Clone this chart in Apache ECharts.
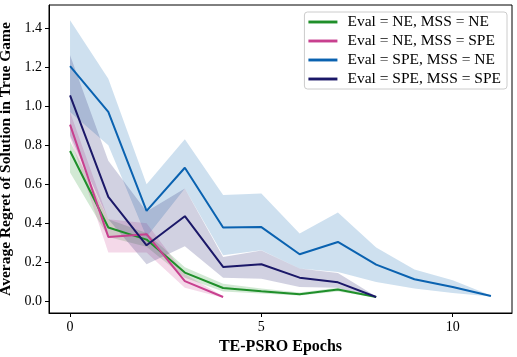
<!DOCTYPE html>
<html>
<head>
<meta charset="utf-8">
<script src="https://cdn.jsdelivr.net/npm/echarts@6/dist/echarts.min.js"></script>
<style>
  html, body { margin: 0; padding: 0; background: #fff; }
  #chart { width: 517px; height: 357px; }
</style>
</head>
<body>
<div id="chart"></div>
<script>
// epochs per run
const epochsNE_NE = [0, 1, 2, 3, 4, 5, 6, 7, 8]
const epochsNE_SPE = [0, 1, 2, 3, 4]
const epochsSPE_NE = [0, 1, 2, 3, 4, 5, 6, 7, 8, 9, 10, 11]
const epochsSPE_SPE = [0, 1, 2, 3, 4, 5, 6, 7, 8]

// mean regret and band edges
const neNeMean = [0.77, 0.378, 0.316, 0.147, 0.068, 0.051, 0.036, 0.06, 0.022]
const neNeUpper = [0.82, 0.42, 0.35, 0.175, 0.09, 0.065, 0.045, 0.07, 0.025]
const neNeLower = [0.66, 0.33, 0.28, 0.12, 0.05, 0.04, 0.03, 0.05, 0.019]

const neSpeMean = [0.905, 0.33, 0.344, 0.103, 0.022]
const neSpeUpper = [0.97, 0.42, 0.40, 0.14, 0.026]
const neSpeLower = [0.84, 0.25, 0.25, 0.07, 0.018]

const speNeMean = [1.205, 0.97, 0.463, 0.684, 0.378, 0.38, 0.241, 0.304, 0.188, 0.113, 0.073, 0.027]
const speNeUpper = [1.44, 1.14, 0.6, 0.83, 0.545, 0.552, 0.347, 0.455, 0.275, 0.163, 0.108, 0.03]
const speNeLower = [0.97, 0.8, 0.33, 0.578, 0.236, 0.262, 0.168, 0.15, 0.099, 0.065, 0.043, 0.024]

const speSpeMean = [1.055, 0.535, 0.287, 0.436, 0.176, 0.19, 0.121, 0.097, 0.022]
const speSpeUpper = [1.26, 0.72, 0.46, 0.578, 0.227, 0.26, 0.168, 0.145, 0.025]
const speSpeLower = [0.85, 0.42, 0.19, 0.282, 0.121, 0.116, 0.073, 0.07, 0.019]

const names = [
  'Eval = NE, MSS = NE',
  'Eval = NE, MSS = SPE',
  'Eval = SPE, MSS = NE',
  'Eval = SPE, MSS = SPE'
]
const colors = ['#1f8f2a', '#c8408f', '#0a62b0', '#1b1868']

const runs = [
  { x: epochsNE_NE, mean: neNeMean, up: neNeUpper, lo: neNeLower },
  { x: epochsNE_SPE, mean: neSpeMean, up: neSpeUpper, lo: neSpeLower },
  { x: epochsSPE_NE, mean: speNeMean, up: speNeUpper, lo: speNeLower },
  { x: epochsSPE_SPE, mean: speSpeMean, up: speSpeUpper, lo: speSpeLower }
]

const font = 'Liberation Serif, DejaVu Serif, serif'

const bandSeries = runs.map((r, i) => {
  return {
    type: 'custom',
    silent: true,
    z: 1,
    data: [0],
    renderItem: function (params, api) {
      const pts = []
      r.x.forEach((x, k) => pts.push(api.coord([x, r.up[k]])))
      for (let k = r.x.length - 1; k >= 0; k--) pts.push(api.coord([r.x[k], r.lo[k]]))
      return {
        type: 'polygon',
        shape: { points: pts },
        style: { fill: colors[i], opacity: 0.2 }
      }
    }
  }
})

const lineSeries = runs.map((r, i) => {
  return {
    name: names[i],
    type: 'line',
    z: 3,
    showSymbol: false,
    lineStyle: { width: 2, color: colors[i] },
    itemStyle: { color: colors[i] },
    data: r.x.map((x, k) => [x, r.mean[k]])
  }
})

const chart = echarts.init(document.getElementById('chart'))
chart.setOption({
  animation: false,
  textStyle: { fontFamily: font },
  grid: {
    left: 49, right: 5, top: 5, bottom: 44,
    outerBoundsMode: 'none',
    containLabel: false,
    show: true, borderColor: '#000', borderWidth: 1, backgroundColor: 'transparent'
  },
  legend: {
    right: 10, top: 12,
    orient: 'vertical',
    itemWidth: 29, itemHeight: 8, itemGap: 3,
    backgroundColor: '#fff',
    borderColor: '#ccc', borderWidth: 1, borderRadius: 3,
    padding: [2, 6, 2, 4],
    textStyle: { fontFamily: font, fontSize: 15.5, color: '#000', padding: [0, 0, 0, 5] },
    data: names.map((n) => ({ name: n, icon: 'path://M0,0 L10,0 L10,1 L0,1 Z' }))
  },
  xAxis: {
    type: 'value',
    min: -0.55, max: 11.55,
    name: 'TE-PSRO Epochs',
    nameLocation: 'middle', nameGap: 26,
    nameTextStyle: { fontFamily: font, fontSize: 16, fontWeight: 'bold', color: '#000' },
    axisLine: { show: true, onZero: false, lineStyle: { color: '#000' } },
    axisTick: { show: true, length: 4, lineStyle: { color: '#000' }, customValues: [0, 5, 10] },
    axisLabel: { fontSize: 14, color: '#000', margin: 7, customValues: [0, 5, 10] },
    splitLine: { show: false }
  },
  yAxis: {
    type: 'value',
    min: -0.06, max: 1.518,
    name: 'Average Regret of Solution in True Game',
    nameLocation: 'middle', nameGap: 34,
    nameTextStyle: { fontFamily: font, fontSize: 15.5, fontWeight: 'bold', color: '#000' },
    axisLine: { show: true, onZero: false, lineStyle: { color: '#000' } },
    axisTick: { show: true, length: 4, lineStyle: { color: '#000' }, customValues: [0, 0.2, 0.4, 0.6, 0.8, 1.0, 1.2, 1.4] },
    axisLabel: {
      fontSize: 14, color: '#000', margin: 7,
      customValues: [0, 0.2, 0.4, 0.6, 0.8, 1.0, 1.2, 1.4],
      formatter: v => v.toFixed(1)
    },
    splitLine: { show: false }
  },
  series: bandSeries.concat(lineSeries)
})
</script>
</body>
</html>
